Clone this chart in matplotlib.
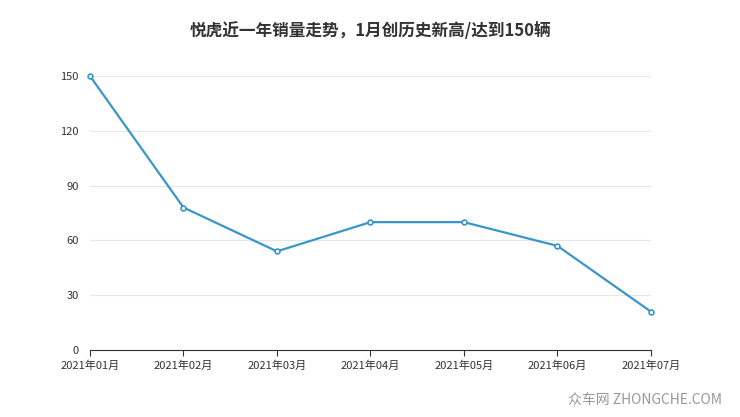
import matplotlib.pyplot as plt

months = ["2021年01月", "2021年02月", "2021年03月", "2021年04月", "2021年05月", "2021年06月", "2021年07月"]
sales = [150, 78, 54, 70, 70, 57, 21]
yticks = [0, 30, 60, 90, 120, 150]

plt.rcParams["font.family"] = "Noto Sans CJK SC"

fig = plt.figure(figsize=(7.4, 4.17), dpi=100)
ax = fig.add_axes([0.1216, 0.1607, 0.758, 0.657])

x = list(range(len(months)))
ax.plot(x, sales, color="#3a96c8", linewidth=1.6, marker="o", markersize=3.5,
        markerfacecolor="white", markeredgecolor="#3a96c8", markeredgewidth=1.2, clip_on=False, zorder=3)

ax.set_xlim(0, len(months) - 1)
ax.set_ylim(0, 150)
ax.set_xticks(x)
ax.set_xticklabels(months, fontsize=8, color="#333333")
ax.set_yticks(yticks)
ax.set_yticklabels([str(v) for v in yticks], fontsize=8, color="#333333")
ax.grid(axis="y", color="#e6e6e6", linewidth=0.8)
for s in ["top", "right", "left"]:
    ax.spines[s].set_visible(False)
ax.spines["bottom"].set_color("#333333")
ax.tick_params(axis="y", length=0, pad=8)
ax.tick_params(axis="x", length=4, color="#333333")

fig.text(0.5, 0.925, "悦虎近一年销量走势，1月创历史新高/达到150辆", ha="center", va="center",
         fontsize=12, fontweight="bold", color="#333333")
fig.text(0.975, 0.04, "众车网 ZHONGCHE.COM", ha="right", va="center", fontsize=10, color="#999999")

fig.savefig("out.png", dpi=100)
